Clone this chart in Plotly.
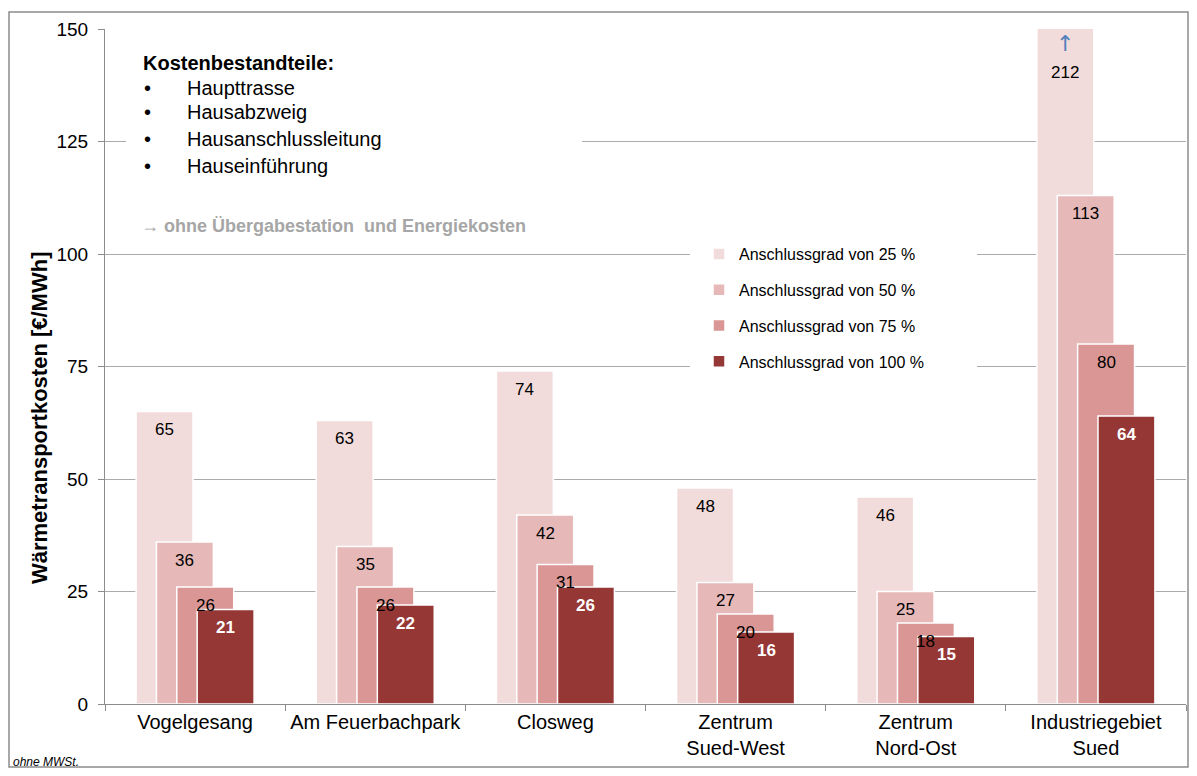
import plotly.graph_objects as go

# Daten
standorte = ["Vogelgesang", "Am Feuerbachpark", "Closweg", "Zentrum<br>Sued-West",
             "Zentrum<br>Nord-Ost", "Industriegebiet<br>Sued"]
serien = ["Anschlussgrad von 25 %", "Anschlussgrad von 50 %",
          "Anschlussgrad von 75 %", "Anschlussgrad von 100 %"]
werte_25 = [65, 63, 74, 48, 46, 212]
werte_50 = [36, 35, 42, 27, 25, 113]
werte_75 = [26, 26, 31, 20, 18, 80]
werte_100 = [21, 22, 26, 16, 15, 64]
y_ticks = [0, 25, 50, 75, 100, 125, 150]

YMAX = 150
farben = ["#F2DCDB", "#E6B9B8", "#D99694", "#953735"]
BREITE = 0.316
SCHRITT = 0.113
offsets = [-BREITE / 2 - 1.5 * SCHRITT + k * SCHRITT for k in range(4)]

# Die Seite hat 8px Rand -> alle Bildschirmpixel um OFF verschieben
OFF = 8
W, H = 1197 - 2 * OFF, 776 - 2 * OFF
# Plotbereich in Bildschirmpixeln
L, R, T, B = 105, 1186, 29, 704


def px_x(px):
    return (px - L) / (R - L)


def px_y(py):
    return (B - py) / (B - T)


fig = go.Figure()
alle_werte = [werte_25, werte_50, werte_75, werte_100]
for k, (name, werte) in enumerate(zip(serien, alle_werte)):
    fig.add_trace(go.Bar(
        x=standorte, y=werte, name=name,
        width=BREITE, offset=offsets[k],
        marker=dict(color=farben[k], line=dict(color="white", width=1.5)),
        legendgroup=name, hoverinfo="skip",
    ))

# Datenbeschriftungen
annots = []
for k, werte in enumerate(alle_werte):
    for i, v in enumerate(werte):
        xc = i + offsets[k] + BREITE / 2
        letzte = k == 3
        font = dict(family="Liberation Sans, Arial", size=17,
                    color="white" if letzte else "black")
        txt = f"<b>{v}</b>" if letzte else str(v)
        if v > YMAX:
            annots.append(dict(x=xc, y=YMAX, xref="x", yref="y", text="↑",
                               showarrow=False, yshift=-14,
                               font=dict(family="DejaVu Sans", size=22, color="#4F81BD")))
            annots.append(dict(x=xc, y=YMAX, xref="x", yref="y", text=txt,
                               showarrow=False, yshift=-43, font=font))
        else:
            annots.append(dict(x=xc, y=v, xref="x", yref="y", text=txt,
                               showarrow=False, yshift=-18, font=font))

# Textblock oben links
txt_font = dict(family="Liberation Sans, Arial", size=20, color="black")
annots.append(dict(x=px_x(141), y=px_y(63), xref="paper", yref="paper",
                   text="<b>Kostenbestandteile:</b>", showarrow=False,
                   xanchor="left", yanchor="middle", font=txt_font))
punkte = ["Haupttrasse", "Hausabzweig", "Hausanschlussleitung", "Hauseinführung"]
for p, py in zip(punkte, [88, 112, 139, 166]):
    annots.append(dict(x=px_x(142), y=px_y(py), xref="paper", yref="paper",
                       text="•", showarrow=False, xanchor="left", yanchor="middle",
                       font=txt_font))
    annots.append(dict(x=px_x(185), y=px_y(py), xref="paper", yref="paper",
                       text=p, showarrow=False, xanchor="left", yanchor="middle",
                       font=txt_font))
annots.append(dict(x=px_x(139), y=px_y(226), xref="paper", yref="paper",
                   text="<b>→ ohne Übergabestation\u00a0 und Energiekosten</b>",
                   showarrow=False, xanchor="left", yanchor="middle",
                   font=dict(family="Liberation Sans, Arial", size=18, color="#A6A6A6")))

# Achsentitel und Fußnote
annots.append(dict(x=px_x(39), y=px_y(418), xref="paper", yref="paper",
                   text="<b>Wärmetransportkosten [€/MWh]</b>", textangle=-90,
                   showarrow=False, xanchor="center", yanchor="middle",
                   font=dict(family="Liberation Sans, Arial", size=22, color="black")))
annots.append(dict(x=px_x(11), y=px_y(762), xref="paper", yref="paper",
                   text="<i>ohne MWSt.</i>", showarrow=False,
                   xanchor="left", yanchor="middle",
                   font=dict(family="Liberation Sans, Arial", size=12, color="black")))

shapes = [
    # weiße Flächen hinter Textblock und Legende (unterbrechen die Gitterlinien)
    dict(type="rect", xref="paper", yref="paper", layer="above",
         x0=px_x(126), x1=px_x(582), y0=px_y(240), y1=px_y(45),
         fillcolor="white", line=dict(width=0)),
    dict(type="rect", xref="paper", yref="paper", layer="above",
         x0=px_x(690), x1=px_x(977), y0=px_y(374), y1=px_y(238),
         fillcolor="white", line=dict(width=0)),
    # Rahmen
    dict(type="rect", xref="paper", yref="paper", layer="above",
         x0=px_x(9), x1=px_x(W + OFF - 1), y0=px_y(H + OFF - 1), y1=px_y(12),
         fillcolor="rgba(0,0,0,0)", line=dict(color="#8C8C8C", width=1.5)),
]

fig.update_layout(
    width=W, height=H,
    margin=dict(l=L - OFF, r=W + OFF - R, t=T - OFF, b=H + OFF - B),
    barmode="overlay",
    plot_bgcolor="white", paper_bgcolor="white",
    font=dict(family="Liberation Sans, Arial", color="black"),
    showlegend=True,
    legend=dict(x=px_x(699), y=px_y(237), xanchor="left", yanchor="top",
                bgcolor="rgba(0,0,0,0)", font=dict(size=16, color="black"),
                traceorder="grouped", tracegroupgap=12),
    annotations=annots,
    shapes=shapes,
)
fig.update_xaxes(
    type="category", showline=True, linecolor="#8C8C8C", linewidth=1,
    ticks="outside", tickson="boundaries", ticklen=6, tickcolor="#8C8C8C",
    tickfont=dict(size=20, color="black"), showgrid=False,
)
fig.update_yaxes(
    range=[0, YMAX], tickvals=y_ticks, showline=True, linecolor="#8C8C8C",
    linewidth=1, ticks="outside", ticklen=6, tickcolor="#8C8C8C",
    gridcolor="#ABABAB", gridwidth=1, zeroline=False,
    tickfont=dict(size=19, color="black"), ticklabelstandoff=6,
)

fig.write_html("out.html")
